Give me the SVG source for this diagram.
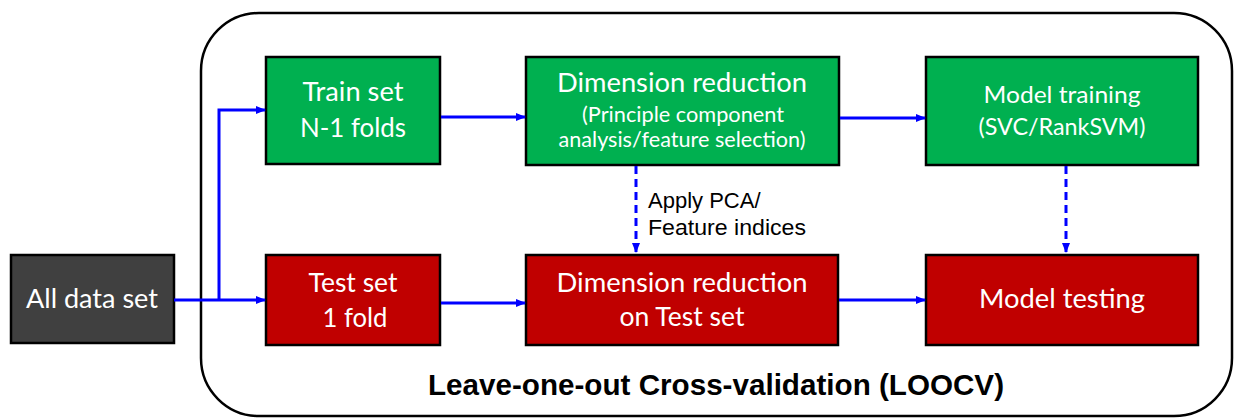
<svg xmlns="http://www.w3.org/2000/svg" width="1234" height="419" viewBox="0 0 1234 419">
<style>
.box{stroke:#000;stroke-width:2.5}
.green{fill:#00B050}
.red{fill:#C00000}
.dark{fill:#404040}
.wt{fill:#fff;font-family:Lato,"Open Sans","Liberation Sans",sans-serif;text-anchor:middle}
.big{font-size:26.5px}
.mid{font-size:23.5px}
.small{font-size:20.5px}
.conn{fill:none;stroke:#0000FF;stroke-width:3}
.dash{stroke-dasharray:8,5}
.lbl{font-family:"Liberation Sans",Arial,sans-serif;font-size:22px;fill:#000}
.title{font-family:"Liberation Sans",Arial,sans-serif;font-size:29.5px;font-weight:bold;fill:#000;text-anchor:middle}
</style>
<defs>
<marker id="ah" markerWidth="10" markerHeight="8" refX="9" refY="4" orient="auto" markerUnits="userSpaceOnUse">
<path d="M0,0 L10,4 L0,8 Z" fill="#0000FF"/>
</marker>
</defs>

<g id="loocv">
<rect x="201" y="13" width="1031" height="403" rx="58" ry="58" fill="#fff" stroke="#000" stroke-width="2.5"/>
<text class="title" x="716" y="395" textLength="576" lengthAdjust="spacingAndGlyphs">Leave-one-out Cross-validation (LOOCV)</text>
</g>

<g id="all-data">
<rect class="box dark" x="11" y="255" width="163" height="88"/>
<text class="wt big" x="92" y="308" textLength="132" lengthAdjust="spacingAndGlyphs">All data set</text>
</g>

<g id="train-set">
<rect class="box green" x="266" y="57" width="174" height="107"/>
<text class="wt big" x="353" y="101" textLength="101" lengthAdjust="spacingAndGlyphs">Train set</text>
<text class="wt big" x="353" y="137" textLength="106" lengthAdjust="spacingAndGlyphs">N-1 folds</text>
</g>

<g id="dim-red-train">
<rect class="box green" x="526" y="57" width="313" height="108"/>
<text class="wt big" x="682" y="92" textLength="250" lengthAdjust="spacingAndGlyphs">Dimension reduction</text>
<text class="wt small" x="683" y="122" textLength="202" lengthAdjust="spacingAndGlyphs">(Principle component</text>
<text class="wt small" x="682" y="147" textLength="247" lengthAdjust="spacingAndGlyphs">analysis/feature selection)</text>
</g>

<g id="model-training">
<rect class="box green" x="926" y="57" width="272" height="108"/>
<text class="wt mid" x="1062" y="103" textLength="157" lengthAdjust="spacingAndGlyphs">Model training</text>
<text class="wt mid" x="1062" y="135" textLength="167" lengthAdjust="spacingAndGlyphs">(SVC/RankSVM)</text>
</g>

<g id="test-set">
<rect class="box red" x="266" y="255" width="174" height="90"/>
<text class="wt big" x="353" y="292" textLength="89" lengthAdjust="spacingAndGlyphs">Test set</text>
<text class="wt big" x="355" y="327" textLength="65" lengthAdjust="spacingAndGlyphs">1 fold</text>
</g>

<g id="dim-red-test">
<rect class="box red" x="526" y="255" width="312" height="90"/>
<text class="wt big" x="682" y="292" textLength="251" lengthAdjust="spacingAndGlyphs">Dimension reduction</text>
<text class="wt big" x="682" y="326" textLength="125" lengthAdjust="spacingAndGlyphs">on Test set</text>
</g>

<g id="model-testing">
<rect class="box red" x="926" y="255" width="272" height="90"/>
<text class="wt big" x="1062" y="308" textLength="166" lengthAdjust="spacingAndGlyphs">Model testing</text>
</g>

<g id="connectors">
<path class="conn" d="M174,300 L265,300" marker-end="url(#ah)"/>
<path class="conn" d="M219,300 L219,110 L265,110" marker-end="url(#ah)"/>
<path class="conn" d="M441,117 L525,117" marker-end="url(#ah)"/>
<path class="conn" d="M840,118 L925,118" marker-end="url(#ah)"/>
<path class="conn" d="M441,303 L525,303" marker-end="url(#ah)"/>
<path class="conn" d="M839,300 L925,300" marker-end="url(#ah)"/>
<path class="conn dash" d="M636,166 L636,252" marker-end="url(#ah)"/>
<path class="conn dash" d="M1066,166 L1066,252" marker-end="url(#ah)"/>
<text class="lbl" x="648" y="208">Apply PCA/</text>
<text class="lbl" x="648" y="235" textLength="158" lengthAdjust="spacingAndGlyphs">Feature indices</text>
</g>
</svg>
